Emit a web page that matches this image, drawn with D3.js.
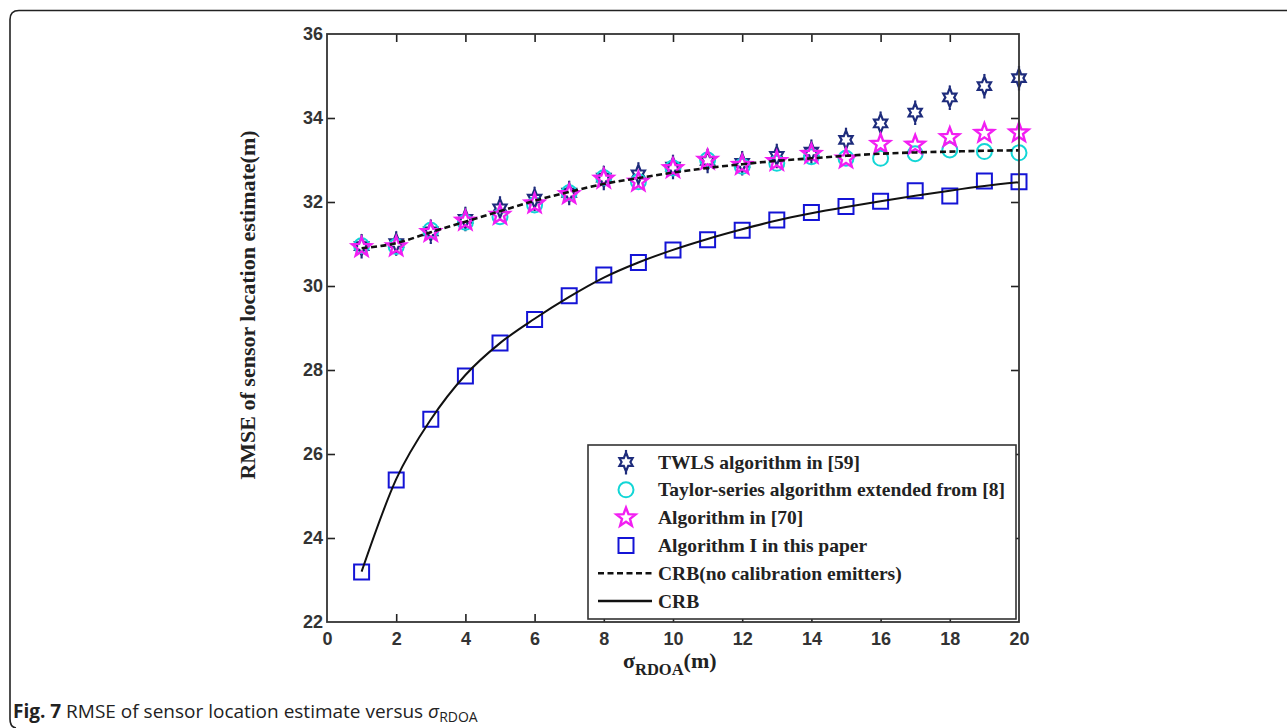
<!DOCTYPE html>
<html>
<head>
<meta charset="utf-8">
<script src="https://cdn.jsdelivr.net/npm/d3@7"></script>
<style>
  html, body { margin: 0; padding: 0; background: #ffffff; }
  svg { display: block; }
</style>
</head>
<body>
<svg id="chart" width="1287" height="728"></svg>
<script>
// ---------------- data ----------------
const sigma = [1,2,3,4,5,6,7,8,9,10,11,12,13,14,15,16,17,18,19,20];
const twls = [30.95,31.02,31.3,31.6,31.85,32.08,32.22,32.58,32.66,32.84,32.98,32.93,33.1,33.2,33.48,33.87,34.13,34.49,34.76,34.95];
const taylor = [30.96,30.94,31.33,31.52,31.65,31.93,32.22,32.58,32.48,32.81,33.0,32.85,32.92,33.08,33.04,33.04,33.15,33.24,33.2,33.17];
const alg70 = [30.92,30.94,31.28,31.55,31.69,31.96,32.18,32.55,32.48,32.8,33.0,32.88,32.97,33.14,33.03,33.38,33.36,33.54,33.64,33.65];
const algI = [23.19,25.38,26.83,27.86,28.64,29.2,29.77,30.26,30.56,30.86,31.1,31.33,31.57,31.75,31.89,32.02,32.27,32.14,32.5,32.48];
const crbNoCal = [30.9,31.02,31.28,31.53,31.78,32.03,32.24,32.43,32.57,32.7,32.81,32.9,32.98,33.04,33.1,33.15,33.18,33.2,33.22,33.23];
const crb = [23.2,25.4,26.82,27.88,28.64,29.22,29.74,30.2,30.56,30.86,31.12,31.35,31.56,31.73,31.88,32.02,32.15,32.27,32.38,32.47];
const xTicks = [0,2,4,6,8,10,12,14,16,18,20];
const yTicks = [22,24,26,28,30,32,34,36];
const legendLabels = ["TWLS algorithm in [59]", "Taylor-series algorithm extended from [8]", "Algorithm in [70]", "Algorithm I in this paper", "CRB(no calibration emitters)", "CRB"];

// ---------------- layout ----------------
const svg = d3.select("#chart");
const L = 327, R = 1019, T = 34, B = 622;
const x = d3.scaleLinear().domain([0,20]).range([L,R]);
const y = d3.scaleLinear().domain([22,36]).range([B,T]);

const tickFont = "'Liberation Sans Narrow','Arial Narrow','Liberation Sans',Arial,sans-serif";
const serif = "'Liberation Serif','Times New Roman',serif";

// outer frame (top + left, rounded corner)
svg.append("path")
  .attr("d", "M1287,10.5 H19 Q10,10.5 10,19.5 V719 Q10,727 16,728")
  .attr("fill","none").attr("stroke","#222").attr("stroke-width",1.6);

// ---------------- marker paths ----------------
function starPath(n, rOut, rIn) {
  const pts = [];
  for (let i = 0; i < 2*n; i++) {
    const a = -Math.PI/2 + i*Math.PI/n;
    const r = i % 2 === 0 ? rOut : rIn;
    pts.push([r*Math.cos(a), r*Math.sin(a)]);
  }
  return "M" + pts.map(p => p[0].toFixed(2)+","+p[1].toFixed(2)).join("L") + "Z";
}
const hexPath = (function(){
  const pts = [];
  for (let i = 0; i < 12; i++) {
    const a = -Math.PI/2 + i*Math.PI/6;
    let r = i % 2 === 0 ? 7.6 : 4.4;
    if (i === 0 || i === 6) r = 9.5;
    pts.push([r*Math.cos(a), r*Math.sin(a)]);
  }
  return "M" + pts.map(p => p[0].toFixed(2)+","+p[1].toFixed(2)).join("L") + "Z M0,-12 V-9 M0,9 V12.5";
})();
const pentPath = starPath(5, 10, 4.2);
const sq = 7.5;
const squarePath = `M${-sq},${-sq}H${sq}V${sq}H${-sq}Z`;
const circlePath = "M7.5,0A7.5,7.5 0 1,1 -7.5,0A7.5,7.5 0 1,1 7.5,0Z";

const cNavy = "#1e2c7c", cCyan = "#12d6d6", cMag = "#f21ef2", cBlue = "#1414d6";

// ---------------- axes ----------------
const gx = svg.append("g").attr("transform",`translate(0,${B})`)
  .call(d3.axisBottom(x).tickValues(xTicks).tickSizeInner(-8).tickSizeOuter(0).tickPadding(10).tickFormat(d3.format("d")));
const gxt = svg.append("g").attr("transform",`translate(0,${T})`)
  .call(d3.axisTop(x).tickValues(xTicks).tickSizeInner(-8).tickSizeOuter(0).tickFormat(""));
const gy = svg.append("g").attr("transform",`translate(${L},0)`)
  .call(d3.axisLeft(y).tickValues(yTicks).tickSizeInner(-8).tickSizeOuter(0).tickPadding(4).tickFormat(d3.format("d")));
const gyr = svg.append("g").attr("transform",`translate(${R},0)`)
  .call(d3.axisRight(y).tickValues(yTicks).tickSizeInner(-8).tickSizeOuter(0).tickFormat(""));
[gx,gxt,gy,gyr].forEach(g => {
  g.select(".domain").remove();
  g.selectAll(".tick line").attr("stroke","#222").attr("stroke-width",1.6);
  g.selectAll("text").attr("font-family",tickFont).attr("font-weight","bold")
    .attr("font-size","18px").attr("fill","#333");
});
gx.selectAll(".tick").filter(d => d===0 || d===20).select("line").remove();
gxt.selectAll(".tick").filter(d => d===0 || d===20).select("line").remove();
gy.selectAll(".tick").filter(d => d===22 || d===36).select("line").remove();
gyr.selectAll(".tick").filter(d => d===22 || d===36).select("line").remove();

// ---------------- markers ----------------
function markers(vals, path, color, sw) {
  svg.append("g").selectAll("path").data(vals).join("path")
    .attr("d", path)
    .attr("transform",(d,i) => `translate(${x(sigma[i])},${y(d)})`)
    .attr("fill","none").attr("stroke",color).attr("stroke-width",sw);
}
markers(twls, hexPath, cNavy, 2.2);
markers(taylor, circlePath, cCyan, 2);
markers(alg70, pentPath, cMag, 2.4);
markers(algI, squarePath, cBlue, 2);

// ---------------- lines ----------------
const line = d3.line().x((d,i) => x(sigma[i])).y(d => y(d)).curve(d3.curveMonotoneX);
svg.append("path").datum(crbNoCal).attr("d", line)
  .attr("fill","none").attr("stroke","#111").attr("stroke-width",2.6).attr("stroke-dasharray","6,3.5");
svg.append("path").datum(crb).attr("d", line)
  .attr("fill","none").attr("stroke","#111").attr("stroke-width",2);

// axes box
svg.append("rect").attr("x",L).attr("y",T).attr("width",R-L).attr("height",B-T)
  .attr("fill","none").attr("stroke","#333").attr("stroke-width",1.8);

// ---------------- legend ----------------
const lg = svg.append("g");
lg.append("rect").attr("x",588).attr("y",445).attr("width",428).attr("height",174)
  .attr("fill","#fff").attr("stroke","#333").attr("stroke-width",1.6);
const rowY = d3.range(6).map(i => 462 + i*27.8);
const symX = 626;
lg.append("path").attr("d",hexPath).attr("transform",`translate(${symX},${rowY[0]})`)
  .attr("fill","none").attr("stroke",cNavy).attr("stroke-width",2.2);
lg.append("path").attr("d",circlePath).attr("transform",`translate(${symX},${rowY[1]})`)
  .attr("fill","none").attr("stroke",cCyan).attr("stroke-width",2);
lg.append("path").attr("d",pentPath).attr("transform",`translate(${symX},${rowY[2]})`)
  .attr("fill","none").attr("stroke",cMag).attr("stroke-width",2.4);
lg.append("path").attr("d",squarePath).attr("transform",`translate(${symX},${rowY[3]})`)
  .attr("fill","none").attr("stroke",cBlue).attr("stroke-width",2);
lg.append("line").attr("x1",598).attr("x2",652).attr("y1",rowY[4]).attr("y2",rowY[4])
  .attr("stroke","#111").attr("stroke-width",2.4).attr("stroke-dasharray","6,3.5");
lg.append("line").attr("x1",598).attr("x2",652).attr("y1",rowY[5]).attr("y2",rowY[5])
  .attr("stroke","#111").attr("stroke-width",2.4);
lg.selectAll("text.lab").data(legendLabels).join("text").attr("class","lab")
  .attr("x",658).attr("y",(d,i) => rowY[i]+6.5)
  .attr("font-family",serif).attr("font-weight","bold").attr("font-size","19.5px").attr("fill","#222")
  .text(d => d);

// ---------------- axis titles ----------------
svg.append("text")
  .attr("transform","translate(255,305) rotate(-90)")
  .attr("text-anchor","middle")
  .attr("font-family",serif).attr("font-weight","bold").attr("font-size","22px").attr("fill","#222")
  .text("RMSE of sensor location estimate(m)");

const xt = svg.append("text").attr("x",623).attr("y",668)
  .attr("font-family",serif).attr("font-weight","bold").attr("font-size","22px").attr("fill","#222");
xt.append("tspan").text("σ");
xt.append("tspan").attr("dy",7).attr("font-size","16.5px").text("RDOA");
xt.append("tspan").attr("dy",-7).text("(m)");

// ---------------- caption ----------------
const cap = svg.append("text").attr("x",13).attr("y",718)
  .attr("font-family","'Open Sans','Noto Sans',sans-serif").attr("font-size","19px").attr("fill","#222");
cap.append("tspan").attr("font-weight","bold").text("Fig. 7");
cap.append("tspan").text(" RMSE of sensor location estimate versus ");
cap.append("tspan").attr("font-style","italic").text("σ");
cap.append("tspan").attr("dy",4).attr("font-size","14px").text("RDOA");
</script>
</body>
</html>
